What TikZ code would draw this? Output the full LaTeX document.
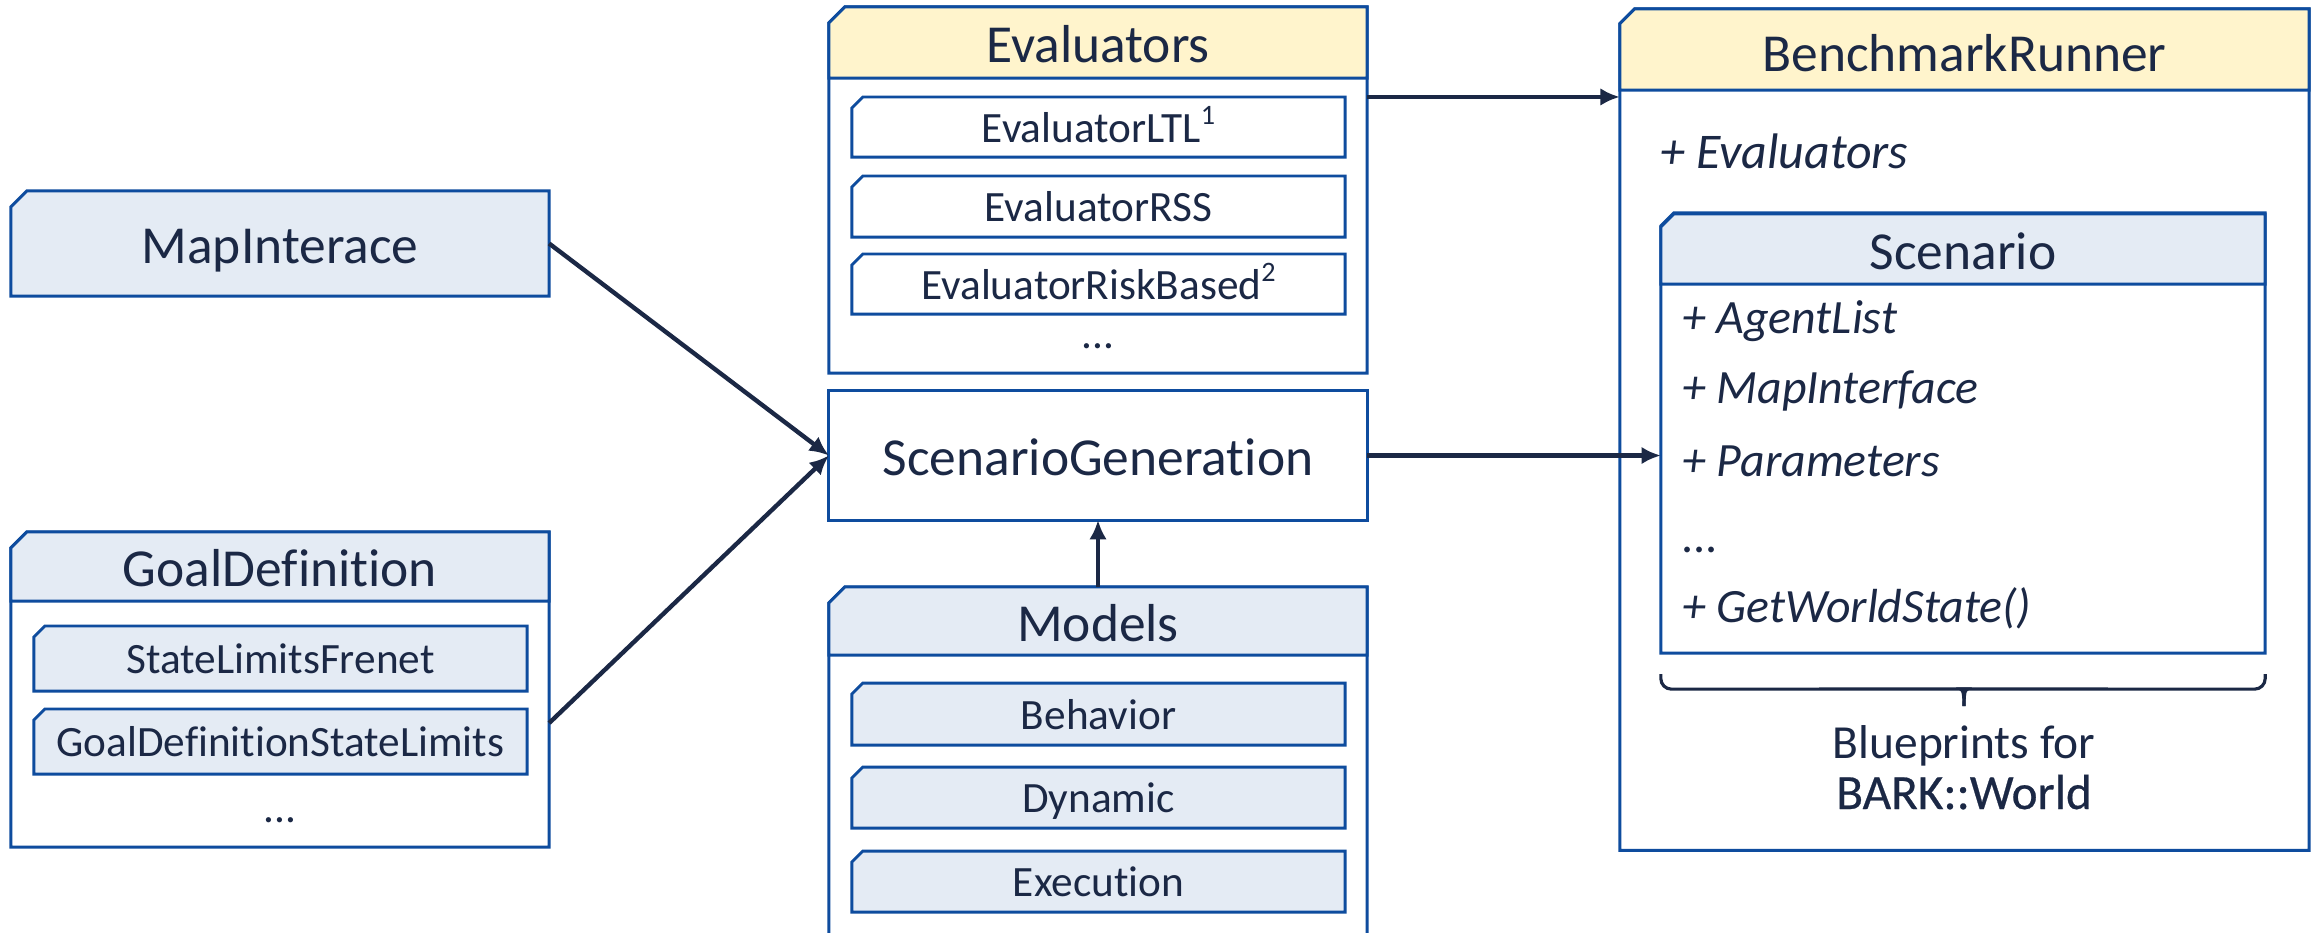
\documentclass[tikz,border=0pt]{standalone}
\usepackage{fontspec}
\setmainfont{Carlito}[Ligatures=NoCommon]
\newfontfamily\heavyfont{Carlito}[Ligatures=NoCommon, FakeBold=0.5]
\usetikzlibrary{backgrounds,arrows.meta,calc}

\definecolor{ink}{RGB}{27,40,69}
\definecolor{edge}{RGB}{14,76,158}
\definecolor{hdryellow}{RGB}{255,244,204}
\definecolor{hdrblue}{RGB}{228,235,244}

\tikzset{
  area/.style={inner sep=0pt, outer sep=0pt, text=ink, text depth=0pt},
  wide/.style={area, minimum width=5.38cm},
  slim/.style={area, minimum width=4.93cm},
  titlefont/.style={font=\fontsize{15.2}{18}\selectfont, text height=11.5pt},
  itemfont/.style={font=\fontsize{12.3}{15}\selectfont, text height=8.8pt},
  attrfont/.style={font=\fontsize{13.6}{16}\selectfont\itshape},
  attr/.style={inner sep=0pt, outer sep=0pt, text=ink, anchor=base west, attrfont},
  frame/.style={draw=edge, line width=0.85pt},
  link/.style={draw=ink, line width=1.25pt, -{Latex[length=5.5pt,width=5pt]}},
  bracestyle/.style={draw=ink, line width=0.9pt},
}

% outline with the upper left corner cut off
\newcommand{\cutframe}[3]{\path[frame,#3] ([yshift=-#2]#1.north west) -- ([xshift=#2]#1.north west) -- (#1.north east) -- (#1.south east) -- (#1.south west) -- cycle;}
\newcommand{\rectframe}[2]{\path[frame,#2] (#1.north west) rectangle (#1.south east);}
\newcommand{\supnum}[1]{\raisebox{0.85ex}{\fontsize{8}{9}\selectfont #1}}

\begin{document}
\begin{tikzpicture}[x=0.01cm, y=-0.01cm]
\useasboundingbox (0,0) rectangle (2318,932);
\clip (0,0) rectangle (2318,932);

% --- left column ---
\node[wide, titlefont, minimum height=1.05cm] (map) at (280,243.5) {MapInterace};

\node[wide, minimum height=3.15cm] (gd) at (280,689.5) {};
\node[wide, titlefont, minimum height=0.69cm] (gdhead) at (280,566.5) {GoalDefinition};
\node[slim, itemfont, minimum height=0.65cm] (slf) at (280.5,658.5) {StateLimitsFrenet};
\node[slim, itemfont, minimum height=0.65cm] (gdsl) at (280.5,741.5) {GoalDefinitionStateLimits};
\node[inner sep=0pt, text=ink, font=\fontsize{12.3}{15}\selectfont, anchor=base] (gddots) at (280,822) {...};

% --- middle column ---
\node[wide, minimum height=3.66cm] (eval) at (1098,190) {};
\node[wide, titlefont, minimum height=0.71cm] (evalhead) at (1098,42.5) {Evaluators};
\node[slim, itemfont, minimum height=0.60cm] (ltl) at (1098.5,127) {EvaluatorLTL\supnum{1}};
\node[slim, itemfont, minimum height=0.61cm] (rss) at (1098.5,206.5) {EvaluatorRSS};
\node[slim, itemfont, minimum height=0.60cm] (risk) at (1098.5,284) {EvaluatorRiskBased\supnum{2}};
\node[inner sep=0pt, text=ink, font=\fontsize{12.3}{15}\selectfont, anchor=base] (evaldots) at (1098,348) {...};

\node[wide, titlefont, minimum height=1.29cm] (sg) at (1098,455.5) {ScenarioGeneration};

\node[wide, minimum height=3.73cm] (models) at (1098,773.5) {};
\node[wide, titlefont, minimum height=0.68cm] (modelshead) at (1098,621) {Models};
\node[slim, itemfont, minimum height=0.62cm] (behavior) at (1098.5,714) {Behavior};
\node[slim, itemfont, minimum height=0.61cm] (dynamic) at (1098.5,797.5) {Dynamic};
\node[slim, itemfont, minimum height=0.61cm] (execution) at (1098.5,881.5) {Execution};

% --- right column ---
\node[area, minimum width=6.89cm, minimum height=8.41cm] (br) at (1964.5,429.5) {};
\node[area, titlefont, minimum width=6.89cm, minimum height=0.81cm] (brhead) at (1964.5,51.5) {BenchmarkRunner};
\node[attr, font=\fontsize{14.2}{17}\selectfont\itshape] (brattr) at (1660,168) {+ Evaluators};

\node[area, minimum width=6.04cm, minimum height=4.40cm] (scen) at (1963,433) {};
\node[area, titlefont, minimum width=6.04cm, minimum height=0.70cm] (scenhead) at (1963,249) {Scenario};
\node[attr] (agents) at (1682,333) {+ AgentList};
\node[attr] (mapif) at (1682,403) {+ MapInterface};
\node[attr] (params) at (1682,476) {+ Parameters};
\node[attr] (scendots) at (1682,552) {...};
\node[attr] (getws) at (1682,622) {+ GetWorldState()};

\coordinate (bracetip) at (1964,706);
\node[inner sep=0pt, text=ink, font=\fontsize{13.5}{16}\selectfont, anchor=base] (bp1) at (1964,758) {Blueprints for};
\node[inner sep=0pt, text=ink, font=\fontsize{14}{16}\selectfont\heavyfont, anchor=base] (bp2) at (1964,809) {BARK::World};

% --- box outlines behind the labels ---
\begin{scope}[on background layer]
  \cutframe{map}{0.16cm}{fill=hdrblue}
  \cutframe{gd}{0.16cm}{fill=white}
  \cutframe{gdhead}{0.16cm}{fill=hdrblue}
  \cutframe{slf}{0.11cm}{fill=hdrblue}
  \cutframe{gdsl}{0.11cm}{fill=hdrblue}

  \cutframe{eval}{0.16cm}{fill=white}
  \cutframe{evalhead}{0.16cm}{fill=hdryellow}
  \cutframe{ltl}{0.11cm}{fill=white}
  \cutframe{rss}{0.11cm}{fill=white}
  \cutframe{risk}{0.11cm}{fill=white}

  \rectframe{sg}{fill=white}

  \cutframe{models}{0.16cm}{fill=white}
  \cutframe{modelshead}{0.16cm}{fill=hdrblue}
  \cutframe{behavior}{0.11cm}{fill=hdrblue}
  \cutframe{dynamic}{0.11cm}{fill=hdrblue}
  \cutframe{execution}{0.11cm}{fill=hdrblue}

  \cutframe{br}{0.15cm}{fill=white}
  \path[frame, fill=hdryellow] ([yshift=-0.15cm]br.north west) -- ([xshift=0.15cm]br.north west) -- (br.north east) -- (br.east |- 0,90) -- (br.west |- 0,90) -- cycle;
  \cutframe{scen}{0.13cm}{fill=white}
  \cutframe{scenhead}{0.13cm}{fill=hdrblue}
\end{scope}

% brace under the scenario class
\draw[bracestyle] (scen.south west) ++(0,21) [rounded corners=3pt] -- ++(0,15) -- (1957,689) [sharp corners] to[out=0,in=90] (bracetip);
\draw[bracestyle] (scen.south east) ++(0,21) [rounded corners=3pt] -- ++(0,15) -- (1971,689) [sharp corners] to[out=180,in=90] (bracetip);

% --- connectors ---
\draw[link] (map.east) -- (sg.west);
\draw[link] ([yshift=-0.335cm]gd.east) -- (sg.west);
\draw[link] ([yshift=0.93cm]eval.east) -- ([yshift=0.93cm]eval.east -| br.west);
\draw[link] (sg.east) -- (sg.east -| scen.west);
\draw[link] (models.north) -- (sg.south);
\end{tikzpicture}
\end{document}
